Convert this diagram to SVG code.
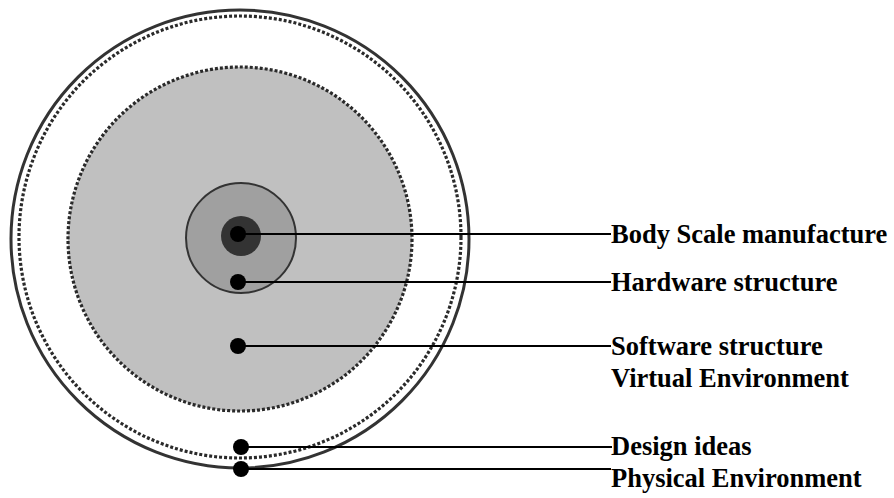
<svg xmlns="http://www.w3.org/2000/svg" width="894" height="498" viewBox="0 0 894 498">
  <style>
    .dotted { fill: none; stroke: #2a2a2a; stroke-width: 3.2; stroke-dasharray: 3 2; }
    .leader { stroke: #000; stroke-width: 2; fill: none; }
    .dot { fill: #000; }
    .label { font-family: "Liberation Serif", "Times New Roman", serif; font-weight: bold; font-size: 26.5px; fill: #000; }
  </style>
  <rect width="894" height="498" fill="#fff"/>

  <g id="physical-environment">
    <circle cx="240" cy="239" r="229" fill="none" stroke="#333" stroke-width="3"/>
  </g>
  <g id="design-ideas">
    <circle class="dotted" cx="240" cy="237" r="221"/>
  </g>
  <g id="software-structure">
    <circle cx="240" cy="239" r="172" fill="#c0c0c0"/>
    <circle class="dotted" cx="240" cy="239" r="172"/>
  </g>
  <g id="hardware-structure">
    <circle cx="241" cy="238" r="55" fill="#a0a0a0" stroke="#333" stroke-width="2"/>
  </g>
  <g id="body-scale">
    <circle cx="241" cy="236" r="20" fill="#333"/>
  </g>

  <g id="connectors">
    <line class="leader" x1="238" y1="234" x2="611" y2="234"/>
    <line class="leader" x1="238" y1="282" x2="611" y2="282"/>
    <line class="leader" x1="238" y1="346" x2="611" y2="346"/>
    <line class="leader" x1="241" y1="447" x2="612" y2="447"/>
    <line class="leader" x1="241" y1="469" x2="611" y2="469"/>
    <circle class="dot" cx="238" cy="234" r="8"/>
    <circle class="dot" cx="238" cy="282" r="8"/>
    <circle class="dot" cx="238" cy="346" r="8"/>
    <circle class="dot" cx="241" cy="447" r="8"/>
    <circle class="dot" cx="241" cy="469" r="8"/>
  </g>

  <g id="labels">
    <text class="label" x="611" y="243">Body Scale manufacture</text>
    <text class="label" x="611" y="291">Hardware structure</text>
    <text class="label" x="611" y="355">Software structure</text>
    <text class="label" x="611" y="387">Virtual Environment</text>
    <text class="label" x="611" y="455">Design ideas</text>
    <text class="label" x="611" y="487">Physical Environment</text>
  </g>
</svg>
